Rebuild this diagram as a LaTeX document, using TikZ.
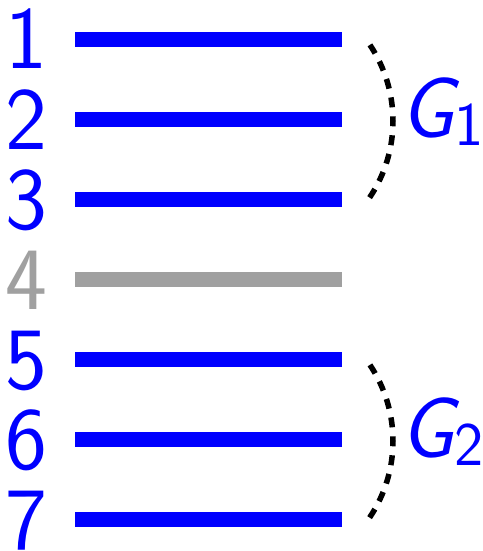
\documentclass[tikz,border=0pt]{standalone}
\usepackage{fontspec}
\definecolor{pureblue}{RGB}{0,0,255}
\definecolor{lightgray}{RGB}{160,160,160}
\tikzset{
  bar/.style={line width=15pt, pureblue},
  offbar/.style={line width=15pt, lightgray},
  num/.style={anchor=base, inner sep=0pt, text height=60pt, text depth=0pt, text=pureblue, font=\fontsize{89}{89}\sffamily},
  offnum/.style={num, text=lightgray},
  grp/.style={anchor=base west, inner sep=0pt, text=pureblue},
  brace/.style={line width=5.5pt, dash pattern=on 10pt off 9pt}
}
\newcommand{\grplabel}[1]{{\fontsize{86}{86}\sffamily\itshape G}\raisebox{-8pt}{\fontsize{62}{62}\sffamily #1}}
\begin{document}
\begin{tikzpicture}[x=1pt,y=-1pt]
\useasboundingbox (0,0) rectangle (482,551);
\foreach \i/\yy in {1/39.5,2/119.5,3/199.5,5/359.5,6/439.5,7/519.5}{
  \coordinate (l\i) at (75,\yy);
  \coordinate (r\i) at (342,\yy);
  \draw[bar] (l\i) -- (r\i);
  \node[num] (n\i) at (26.5,\yy+29.5) {\i};
}
\coordinate (l4) at (75,279.5);
\coordinate (r4) at (342,279.5);
\draw[offbar] (l4) -- (r4);
\node[offnum] (n4) at (26.5,279.5+29.5) {4};
% dashed arcs
\coordinate (c1) at (256,121);
\coordinate (c2) at (256,441);
\draw[brace] ([shift={(34:137)}]c1) arc[start angle=34, end angle=-34, radius=137];
\draw[brace] ([shift={(34:137)}]c2) arc[start angle=34, end angle=-34, radius=137];
\node[grp] (g1) at (400,137) {\grplabel{1}};
\node[grp] (g2) at (400,457) {\grplabel{2}};
\end{tikzpicture}
\end{document}
